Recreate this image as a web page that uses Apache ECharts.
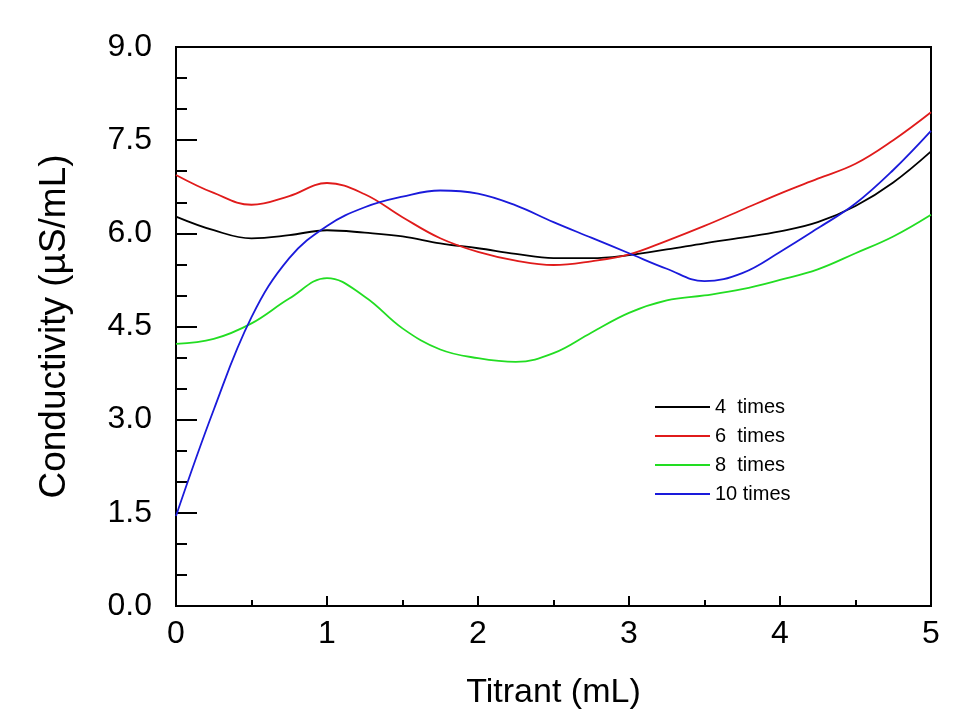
<!DOCTYPE html>
<html style="height: 100%">
<head>
    <meta charset="utf-8">
    <title>Conductivity vs Titrant</title>
    <script type="text/javascript" src="https://cdn.jsdelivr.net/npm/echarts@6/dist/echarts.min.js"></script>
</head>
<body style="height: 100%; margin: 0; background: #fff">
    <div id="container" style="width: 961px; height: 719px"></div>
    <script type="text/javascript">
        // titrant volume (mL)
        var titrant = [0, 0.25, 0.5, 0.75, 1.0, 1.25, 1.5, 1.75, 2.0, 2.25, 2.5, 2.75, 3.0, 3.25, 3.5, 3.75, 4.0, 4.25, 4.5, 4.75, 5.0];
        // conductivity (uS/mL)
        var times4 = [6.27, 6.05, 5.92, 5.97, 6.05, 6.01, 5.95, 5.84, 5.76, 5.67, 5.60, 5.60, 5.65, 5.74, 5.84, 5.93, 6.03, 6.18, 6.44, 6.82, 7.32];
        var times6 = [6.94, 6.65, 6.46, 6.60, 6.81, 6.63, 6.26, 5.92, 5.70, 5.56, 5.49, 5.55, 5.66, 5.88, 6.12, 6.38, 6.64, 6.88, 7.12, 7.50, 7.95];
        var times8 = [4.22, 4.30, 4.55, 4.95, 5.28, 4.98, 4.47, 4.13, 3.99, 3.93, 4.07, 4.40, 4.72, 4.92, 5.00, 5.10, 5.25, 5.42, 5.68, 5.95, 6.30];
        var times10 = [1.45, 3.16, 4.65, 5.60, 6.12, 6.42, 6.59, 6.69, 6.64, 6.45, 6.18, 5.93, 5.68, 5.43, 5.23, 5.36, 5.70, 6.08, 6.48, 7.02, 7.65];
        var names = ['4  times', '6  times', '8  times', '10 times'];
        var colors = ['#000000', '#e01b1b', '#22dd22', '#1a1adb'];

        var dom = document.getElementById('container');
        var myChart = echarts.init(dom);

        function pairs(ys) {
            var out = [];
            for (var i = 0; i < titrant.length; i++) {
                out.push([titrant[i], ys[i]]);
            }
            return out;
        }

        var allData = [times4, times6, times8, times10];
        var series = [];
        for (var k = 0; k < allData.length; k++) {
            series.push({
                name: names[k],
                type: 'line',
                smooth: 0.4,
                symbol: 'none',
                lineStyle: { color: colors[k], width: 1.8 },
                itemStyle: { color: colors[k] },
                data: pairs(allData[k])
            });
        }

        var font = 'Arial, "Liberation Sans", sans-serif';

        var option = {
            backgroundColor: '#ffffff',
            animation: false,
            grid: {
                left: 176,
                right: 30,
                top: 47,
                bottom: 113,
                show: true,
                borderColor: '#000',
                borderWidth: 2
            },
            legend: {
                orient: 'vertical',
                left: 650,
                top: 392,
                icon: 'rect',
                itemWidth: 55,
                itemHeight: 2,
                itemGap: 9,
                textStyle: { fontSize: 20, color: '#000', fontFamily: font },
                data: names
            },
            xAxis: {
                type: 'value',
                min: 0,
                max: 5,
                interval: 1,
                name: 'Titrant (mL)',
                nameLocation: 'middle',
                nameGap: 70,
                nameTextStyle: { fontSize: 34, color: '#000', fontFamily: font },
                axisLine: { lineStyle: { color: '#000', width: 2 } },
                axisTick: { inside: true, length: 10, lineStyle: { color: '#000', width: 2 } },
                minorTick: { show: true, splitNumber: 2, length: 6, lineStyle: { color: '#000', width: 2 } },
                axisLabel: { fontSize: 32, color: '#000', margin: 12, fontFamily: font },
                splitLine: { show: false }
            },
            yAxis: {
                type: 'value',
                min: 0,
                max: 9,
                interval: 1.5,
                name: 'Conductivity (\u00b5S/mL)',
                nameLocation: 'middle',
                nameGap: 103,
                nameTextStyle: { fontSize: 37, color: '#000', fontFamily: font },
                axisLine: { lineStyle: { color: '#000', width: 2 } },
                axisTick: { inside: true, length: 21, lineStyle: { color: '#000', width: 2 } },
                minorTick: { show: true, splitNumber: 3, length: 11, lineStyle: { color: '#000', width: 2 } },
                axisLabel: {
                    fontSize: 32, color: '#000', margin: 24, fontFamily: font,
                    formatter: function (v) { return v.toFixed(1); }
                },
                splitLine: { show: false }
            },
            series: series
        };

        myChart.setOption(option, true);
    </script>
</body>
</html>
